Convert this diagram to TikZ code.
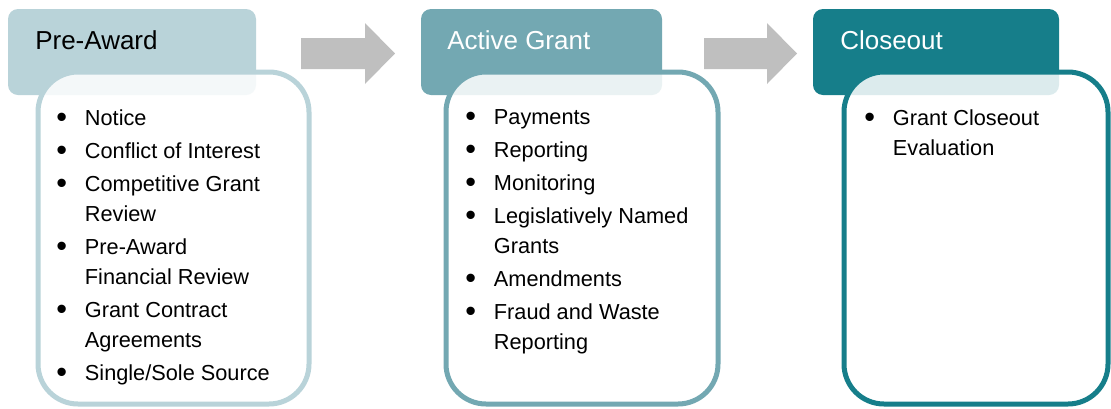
\documentclass[tikz,border=0pt]{standalone}
\usepackage{fontspec}
\setmainfont{Liberation Sans}
\definecolor{preblue}{HTML}{B9D3D9}
\definecolor{activeblue}{HTML}{73A8B2}
\definecolor{closeblue}{HTML}{167E8A}
\definecolor{arrowgray}{HTML}{BFBFBF}
\newcommand{\bul}{\makebox[21.5pt][l]{\raisebox{-2pt}{\fontsize{23}{23}\selectfont\textbullet}}}
\newcommand{\ind}{\hspace*{21.5pt}}

\begin{document}
\begin{tikzpicture}[x=0.75pt, y=-0.75pt,
  headbox/.style={rounded corners=7.5pt},
  bodybox/.style={line width=3.75pt, fill=white, fill opacity=0.85, rounded corners=30pt},
  headlabel/.style={anchor=west, inner sep=0, font=\fontsize{19.5}{23}\selectfont},
  list/.style={anchor=north west, inner sep=0, align=left, font=\fontsize{16.3}{22.5}\selectfont}]
\useasboundingbox (0,0) rectangle (1111,408);
\fill [headbox, preblue] (8,9) rectangle (256,95);
\fill [headbox, activeblue] (421,9) rectangle (662,95);
\fill [headbox, closeblue] (813,9) rectangle (1059,95);
\draw [bodybox, draw=preblue] (38,72) rectangle (309,404);
\draw [bodybox, draw=activeblue] (446,72) rectangle (718,404);
\draw [bodybox, draw=closeblue] (844,72) rectangle (1108,404);
\fill [arrowgray] (301,38) -- (365,38) -- (365,23) -- (395,53.5) -- (365,84) -- (365,69) -- (301,69) -- cycle;
\fill [arrowgray] (704,38) -- (767,38) -- (767,23) -- (797,53.5) -- (767,84) -- (767,69) -- (704,69) -- cycle;
\node [headlabel, text=black] (preLabel) at (35,40) {Pre-Award};
\node [headlabel, text=white] (activeLabel) at (447,40) {Active Grant};
\node [headlabel, text=white] (closeLabel) at (840,40) {Closeout};
\node [list] (preList) at (56,109) {\bul Notice\\[2.25pt]
  \bul Conflict of Interest\\[2.25pt]
  \bul Competitive Grant\\
  \ind Review\\[2.25pt]
  \bul Pre-Award\\
  \ind Financial Review\\[2.25pt]
  \bul Grant Contract\\
  \ind Agreements\\[2.25pt]
  \bul Single/Sole Source};
\node [list] (activeList) at (465,109) {\bul Payments\\[2.25pt]
  \bul Reporting\\[2.25pt]
  \bul Monitoring\\[2.25pt]
  \bul Legislatively Named\\
  \ind Grants\\[2.25pt]
  \bul Amendments\\[2.25pt]
  \bul Fraud and Waste\\
  \ind Reporting};
\node [list] (closeList) at (864,109) {\bul Grant Closeout\\
  \ind Evaluation};
\end{tikzpicture}
\end{document}
